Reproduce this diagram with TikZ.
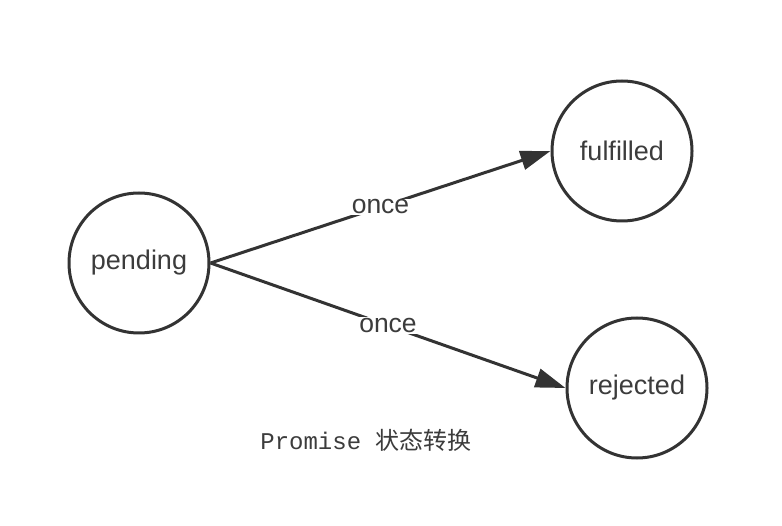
\documentclass[tikz,border=0pt]{standalone}
\usepackage{fontspec}
\setmainfont{Liberation Sans}
\setmonofont{Liberation Mono}
\newfontfamily\cjk{Noto Sans CJK SC}
\usetikzlibrary{arrows.meta}
\definecolor{ink}{HTML}{333333}
\definecolor{word}{HTML}{3c3c3c}
\begin{document}
\begin{tikzpicture}[x=1pt, y=-1pt]
\tikzset{ >={Triangle[length=30pt,width=19pt]},
  state/.style={draw=ink, circle, line width=3pt, minimum size=140pt, inner sep=0pt, text=word, font=\fontsize{27}{32}\selectfont},
  edge/.style={->, draw=ink, line width=3pt},
  lbl/.style={fill=white, inner sep=1pt, text=word, font=\fontsize{26.5}{32}\selectfont},
}

\useasboundingbox (0,0) rectangle (782,526);

\node [state] (P) at (139,263) {pending};
\node [state] (F) at (622,151) {fulfilled};
\node [state] (R) at (637,388) {rejected};

\draw [edge] (P.east) -- node [lbl] (O1) {once} (F.west);
\draw [edge] (P.east) -- node [lbl] (O2) {once} (R.west);

\node [text=word, font=\ttfamily\fontsize{24}{28}\selectfont] (C) at (366,440) {Promise {\cjk 状态转换}};
\end{tikzpicture}
\end{document}
